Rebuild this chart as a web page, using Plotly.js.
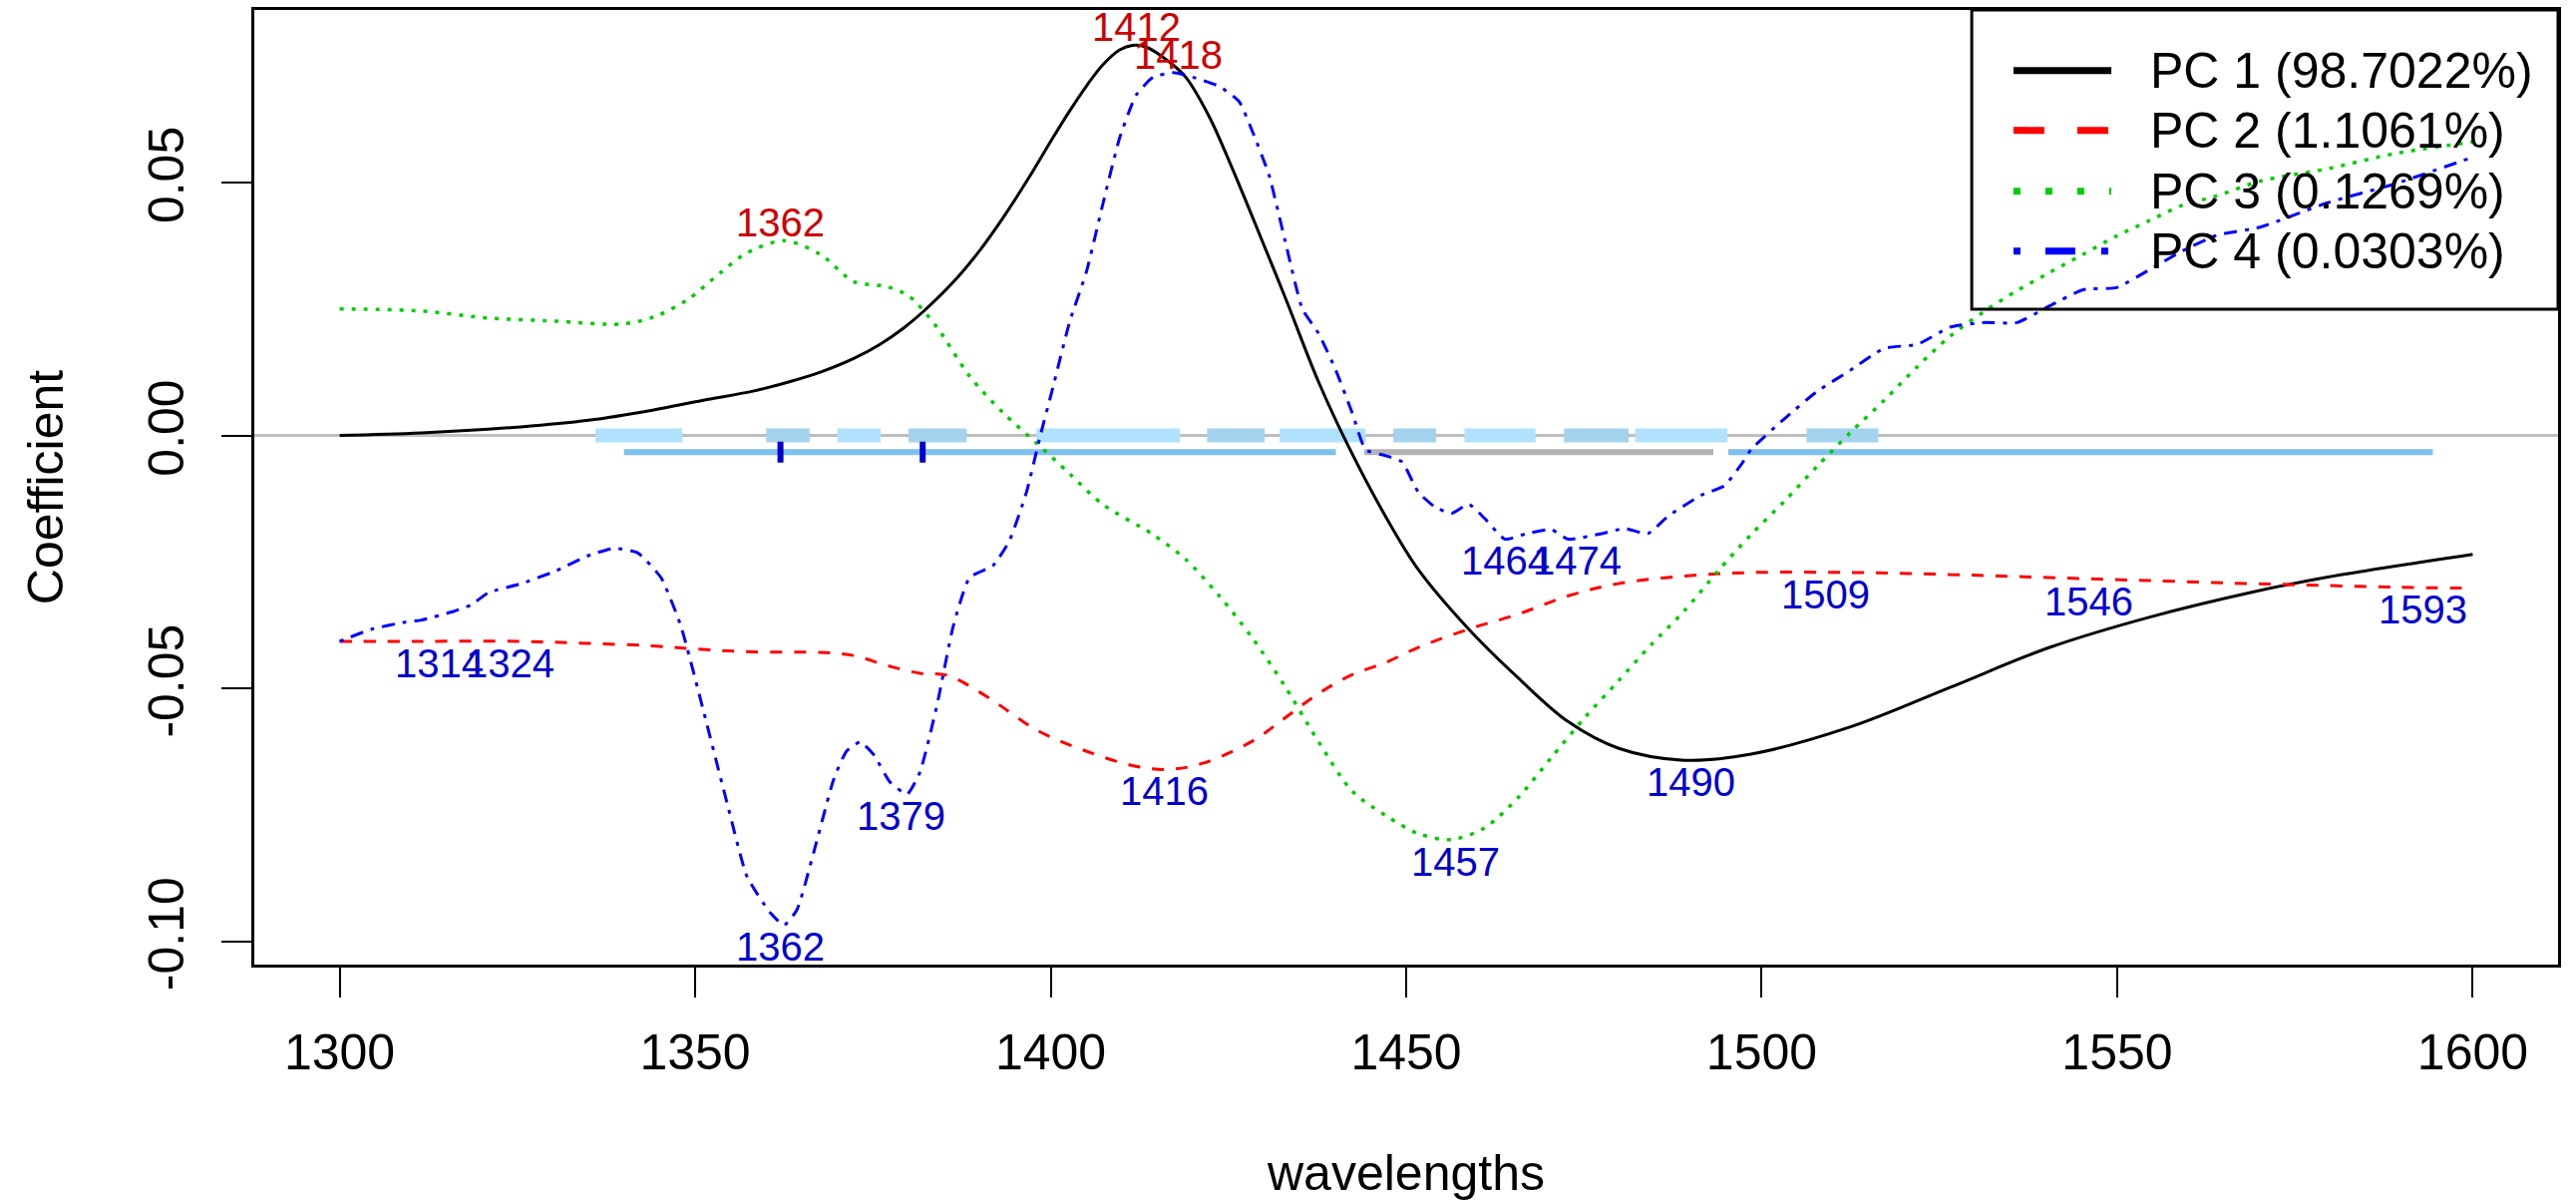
<!DOCTYPE html>
<html><head><meta charset="utf-8">
<script src="https://cdn.plot.ly/plotly-3.0.1.min.js"></script>
<style>html,body{margin:0;padding:0;background:#fff}</style>
</head><body><div id="chart" style="width:2583px;height:1204px"></div>
<script>
// ---------- data ----------
const wlPC1 = [1300,1311.5,1325.5,1335,1344,1351,1358.3,1363,1367.6,1372.3,1376,1379.3,1382.1,1386.3,1390,1393.3,1397.1,1400.3,1402.7,1405,1407.3,1409.7,1411.5,1413.4,1416.7,1419,1422.3,1425.2,1428.4,1433,1437.7,1442,1447.1,1451.7,1458.8,1465.8,1472.8,1479.8,1489.1,1498.5,1512.5,1526.5,1540.5,1554.6,1568.6,1579.6,1600];
const pc1 = [0,0.0005,0.0017,0.003,0.005,0.0069,0.0088,0.0105,0.0125,0.0152,0.018,0.0212,0.0245,0.0303,0.0365,0.043,0.0513,0.0588,0.0642,0.069,0.0732,0.0762,0.0771,0.0768,0.0738,0.0708,0.063,0.0539,0.0431,0.0272,0.0105,-0.0025,-0.016,-0.0265,-0.0383,-0.048,-0.0566,-0.0618,-0.0642,-0.063,-0.0576,-0.0498,-0.0419,-0.0359,-0.0311,-0.028,-0.0235];

const wlPC2 = [1300,1311.5,1325.5,1335,1344,1351,1358.3,1367.6,1372.3,1377,1381.6,1385.4,1391,1398,1405,1412,1416.7,1421.4,1428.4,1433,1437.7,1442.4,1447.1,1451.7,1458.8,1465.8,1472.8,1479.8,1489.1,1498.5,1512.5,1526.5,1540.5,1554.6,1568.6,1574.9,1589,1600];
const pc2 = [-0.0407,-0.0407,-0.0407,-0.0411,-0.0416,-0.0423,-0.0428,-0.0429,-0.0435,-0.0455,-0.047,-0.0474,-0.0516,-0.0582,-0.0624,-0.0654,-0.066,-0.0648,-0.0604,-0.0558,-0.051,-0.0473,-0.0449,-0.0419,-0.0383,-0.0353,-0.0317,-0.0293,-0.0278,-0.0271,-0.0271,-0.0275,-0.0281,-0.0287,-0.0293,-0.0295,-0.03,-0.0302];

const wlPC3 = [1300,1311.5,1320.9,1330.2,1339.6,1344.2,1348.9,1353.6,1357.3,1362.5,1367.6,1372.3,1377,1380.2,1384,1388.6,1393.3,1398,1402.7,1407.3,1414.4,1419,1423.7,1428.4,1433,1437.7,1442.4,1447.1,1451.7,1456.4,1461.1,1465.8,1470.4,1475.1,1479.8,1484.5,1489.1,1493.8,1498.5,1503.2,1507.8,1512.5,1517.2,1521.9,1526.5,1531.2,1535.9,1540.5,1545.2,1549.9,1554.6,1559.2,1563.9,1570.2,1579.6,1589,1600];
const pc3 = [0.025,0.0246,0.0232,0.0226,0.022,0.0234,0.0268,0.0322,0.0361,0.0385,0.0358,0.0304,0.0294,0.0274,0.0214,0.0117,0.0045,-0.0015,-0.0076,-0.0136,-0.0196,-0.0245,-0.0317,-0.0401,-0.0497,-0.0606,-0.0703,-0.0751,-0.0787,-0.0799,-0.0775,-0.0715,-0.0637,-0.0558,-0.0486,-0.0413,-0.0347,-0.0269,-0.0196,-0.013,-0.0061,0.0006,0.0069,0.0136,0.0196,0.0244,0.0286,0.0322,0.0358,0.0394,0.0425,0.0455,0.0473,0.0503,0.0527,0.0557,0.058];

const wlPC4 = [1300,1304.5,1309.2,1311.5,1316.2,1318.5,1320.9,1325.5,1330.2,1334.9,1338.6,1341.9,1345.2,1348,1351.2,1354.5,1357.3,1360.6,1362.5,1364.3,1366.7,1369.5,1371.3,1373.2,1375.1,1377.4,1379.8,1381.6,1384,1386.3,1388.6,1391.9,1394.2,1396.6,1398.5,1400.3,1402.7,1405,1407.3,1409.7,1412,1414.4,1417.2,1420,1423.7,1426.5,1428.4,1430.7,1433,1435.4,1437.7,1440.1,1442.4,1444.3,1447.1,1449.4,1451.7,1454.1,1456.4,1458.8,1461.1,1463.9,1466.7,1470.4,1472.8,1477.5,1480.7,1484,1486.8,1491.5,1494.7,1497.1,1498.5,1503.2,1507.8,1512.5,1517.2,1521.9,1526.5,1531.2,1535.9,1540.5,1545.2,1549.9,1554.6,1559.2,1563.9,1570.2,1579.6,1589,1600];
const pc4 = [-0.0407,-0.0383,-0.0369,-0.0365,-0.0347,-0.0335,-0.0311,-0.0293,-0.0269,-0.0238,-0.0223,-0.0232,-0.0281,-0.0377,-0.0546,-0.0727,-0.0872,-0.0944,-0.0968,-0.0938,-0.0823,-0.0679,-0.0624,-0.0606,-0.0631,-0.0685,-0.0709,-0.0666,-0.0534,-0.0377,-0.0281,-0.0257,-0.0208,-0.0112,-0.0003,0.0094,0.0226,0.0322,0.0455,0.0588,0.0672,0.0708,0.0717,0.0708,0.069,0.066,0.06,0.0515,0.0383,0.025,0.0201,0.0129,0.0045,-0.0028,-0.004,-0.0052,-0.0112,-0.0142,-0.0154,-0.0136,-0.0165,-0.0205,-0.0195,-0.0186,-0.0205,-0.0194,-0.0184,-0.0194,-0.016,-0.0118,-0.01,-0.0058,-0.0028,0.0033,0.0087,0.0129,0.0172,0.018,0.0214,0.0223,0.0223,0.0256,0.0288,0.0292,0.0328,0.0365,0.0395,0.0412,0.046,0.0497,0.055];

const legendLabels = ['PC 1 (98.7022%)','PC 2 (1.1061%)','PC 3 (0.1269%)','PC 4 (0.0303%)'];

// peak labels: maxima (red, above) and minima (blue, below)
const maxPeakWl = [1412, 1418, 1362];
const maxPeakVal = [0.0771, 0.0717, 0.0385];
const minPeakWl = [1314, 1324, 1362, 1379, 1416, 1457, 1464, 1474, 1490, 1509, 1546, 1593];
const minPeakVal = [-0.0407, -0.0407, -0.0968, -0.0709, -0.066, -0.0799, -0.0205, -0.0205, -0.0642, -0.0271, -0.0284, -0.0301];

// selected wavelength bands drawn on the zero line
const bandStart = [1336, 1360, 1370, 1380, 1398, 1422, 1432.2, 1448.2, 1458.2, 1472.2, 1482.2, 1506.3];
const bandEnd   = [1348.2, 1366.1, 1376.1, 1388.2, 1418.2, 1430.1, 1444.3, 1454.2, 1468.2, 1481.3, 1495.2, 1516.4];
const bandHalfHeight = 0.0014;

// lower line: significant ranges
const lowerY = -0.0033;
const lowerBlueStart = [1340, 1495.3];
const lowerBlueEnd = [1440.1, 1594.4];
const lowerGrayStart = [1444.1];
const lowerGrayEnd = [1493.2];
const markWl = [1362, 1382];

// ---------- build ----------
const FONT = '"Liberation Sans", Arial, Helvetica, sans-serif';
function segs(starts, ends, yv){
  const x=[], y=[];
  starts.forEach((s,i)=>{ x.push(s, ends[i], null); y.push(yv, yv, null); });
  return {x, y};
}
const lb = segs(lowerBlueStart, lowerBlueEnd, lowerY);
const lg = segs(lowerGrayStart, lowerGrayEnd, lowerY);

const traces = [
  {x: lb.x, y: lb.y, mode:'lines', line:{color:'#7EC0EE', width:6}, hoverinfo:'skip'},
  {x: lg.x, y: lg.y, mode:'lines', line:{color:'#B3B3B3', width:6}, hoverinfo:'skip'},
  {x: markWl, y: markWl.map(()=>lowerY), mode:'markers',
   marker:{symbol:'line-ns', size:15, line:{width:6, color:'#0000CD'}}, hoverinfo:'skip'},
  {x: wlPC1, y: pc1, mode:'lines', name: legendLabels[0], line:{color:'#000000', width:3, shape:'spline', smoothing:1}},
  {x: wlPC2, y: pc2, mode:'lines', name: legendLabels[1], line:{color:'#FF0000', width:3, dash:'12px,12px', shape:'spline', smoothing:1}},
  {x: wlPC3, y: pc3, mode:'lines', name: legendLabels[2], line:{color:'#00CD00', width:3.5, dash:'4px,8px', shape:'spline', smoothing:0.8}},
  {x: wlPC4, y: pc4, mode:'lines', name: legendLabels[3], line:{color:'#0000FF', width:3, dash:'4px,8px,13px,8px', shape:'spline', smoothing:0.5}}
];

const shapes = [];
bandStart.forEach((s,i)=>{
  shapes.push({type:'rect', xref:'x', yref:'y', x0:s, x1:bandEnd[i], y0:-bandHalfHeight, y1:bandHalfHeight,
    fillcolor: i%2===0 ? '#B0E2FF' : '#A4D3EE', line:{width:0}, layer:'below'});
});
shapes.push({type:'line', xref:'paper', yref:'y', x0:0, x1:1, y0:0, y1:0, line:{color:'#BEBEBE', width:3}, layer:'below'});

const annotations = [];
// peak labels placed at the peaks through the data axes
maxPeakWl.forEach((w,i)=>{
  annotations.push({xref:'x', yref:'y', x:w, y:maxPeakVal[i], text:String(w), showarrow:false,
    xanchor:'center', yanchor:'bottom', yshift:-6, font:{family:FONT, size:40, color:'#CD0000'}});
});
minPeakWl.forEach((w,i)=>{
  annotations.push({xref:'x', yref:'y', x:w, y:minPeakVal[i], text:String(w), showarrow:false,
    xanchor:'center', yanchor:'top', yshift:2, font:{family:FONT, size:40, color:'#0000CD'}});
});

// legend (R style box, transparent background)
const legColors = ['#000000','#FF0000','#00CD00','#0000FF'];
const legDash = ['solid','31px,33px','7px,25px','7px,25px,30px,26px'];
const legRowY = [0.9366, 0.8739, 0.8101, 0.7474];
shapes.push({type:'rect', xref:'paper', yref:'paper', x0:0.7455, x1:1.0, y0:0.6865, y1:1.0,
  line:{color:'#000000', width:3}, fillcolor:'rgba(0,0,0,0)', layer:'above'});
legendLabels.forEach((lab,i)=>{
  shapes.push({type:'line', xref:'paper', yref:'paper', x0:0.7636, x1:0.8061, y0:legRowY[i], y1:legRowY[i],
    line:{color:legColors[i], width:7, dash:legDash[i]}, layer:'above'});
  annotations.push({xref:'paper', yref:'paper', x:0.8221, y:legRowY[i], xanchor:'left', yanchor:'middle',
    text:lab, showarrow:false, font:{family:FONT, size:50, color:'#000000'}});
});

const layout = {
  width:2583, height:1204,
  margin:{l:255, r:18, t:10, b:237, pad:0},
  paper_bgcolor:'#ffffff', plot_bgcolor:'#ffffff',
  showlegend:false,
  font:{family:FONT, size:50, color:'#000000'},
  xaxis:{
    range:[1288, 1612], tickvals:[1300,1350,1400,1450,1500,1550,1600],
    ticks:'outside', ticklen:30, tickwidth:2, tickcolor:'#000000',
    showline:true, mirror:true, linewidth:3, linecolor:'#000000',
    showgrid:false, zeroline:false, ticklabelstandoff:12,
    tickfont:{family:FONT, size:50, color:'#000000'},
    title:{text:'wavelengths', font:{family:FONT, size:50, color:'#000000'}, standoff:90}
  },
  yaxis:{
    range:[-0.10459, 0.08409], tickvals:[-0.1,-0.05,0,0.05], ticktext:['-0.10','-0.05','0.00','0.05'],
    tickangle:-90,
    ticks:'outside', ticklen:30, tickwidth:2, tickcolor:'#000000',
    showline:true, mirror:true, linewidth:3, linecolor:'#000000',
    showgrid:false, zeroline:false, ticklabelstandoff:18,
    tickfont:{family:FONT, size:50, color:'#000000'},
    title:{text:'Coefficient', font:{family:FONT, size:50, color:'#000000'}, standoff:60}
  },
  shapes: shapes,
  annotations: annotations
};

Plotly.newPlot('chart', traces, layout, {displayModeBar:false, staticPlot:true});
</script></body></html>
